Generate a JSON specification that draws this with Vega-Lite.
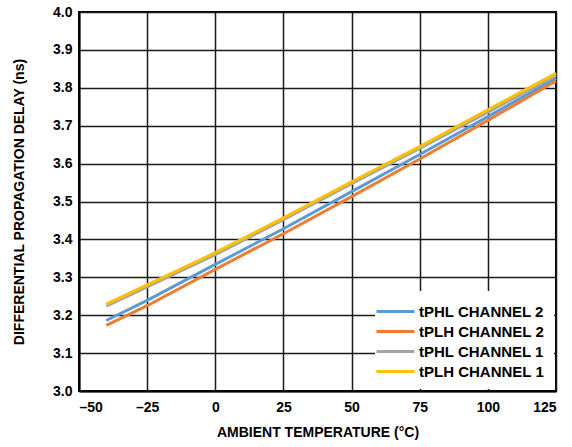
{
  "$schema": "https://vega.github.io/schema/vega-lite/v6.json",
  "width": 477,
  "height": 379,
  "autosize": {"type": "none"},
  "padding": {"left": 79, "top": 12, "right": 16, "bottom": 56},
  "background": "white",
  "config": {
    "font": "Liberation Sans",
    "view": {"stroke": "black", "strokeWidth": 2},
    "axis": {
      "labelFont": "Liberation Sans",
      "labelFontWeight": "bold",
      "labelFontSize": 14,
      "labelColor": "black",
      "titleFont": "Liberation Sans",
      "titleFontWeight": "bold",
      "titleFontSize": 14,
      "titleColor": "black",
      "gridColor": "#1a1a1a",
      "gridWidth": 1.5,
      "gridOpacity": 1,
      "domainColor": "black",
      "domainWidth": 2,
      "ticks": false
    }
  },
  "data": {
    "values": [
      {"temp": -40, "delay": 3.186, "series": "tPHL CHANNEL 2"},
      {"temp": -25, "delay": 3.239, "series": "tPHL CHANNEL 2"},
      {"temp": 0, "delay": 3.334, "series": "tPHL CHANNEL 2"},
      {"temp": 25, "delay": 3.428, "series": "tPHL CHANNEL 2"},
      {"temp": 50, "delay": 3.526, "series": "tPHL CHANNEL 2"},
      {"temp": 75, "delay": 3.624, "series": "tPHL CHANNEL 2"},
      {"temp": 100, "delay": 3.724, "series": "tPHL CHANNEL 2"},
      {"temp": 125, "delay": 3.825, "series": "tPHL CHANNEL 2"},
      {"temp": -40, "delay": 3.173, "series": "tPLH CHANNEL 2"},
      {"temp": -25, "delay": 3.225, "series": "tPLH CHANNEL 2"},
      {"temp": 0, "delay": 3.321, "series": "tPLH CHANNEL 2"},
      {"temp": 25, "delay": 3.415, "series": "tPLH CHANNEL 2"},
      {"temp": 50, "delay": 3.513, "series": "tPLH CHANNEL 2"},
      {"temp": 75, "delay": 3.612, "series": "tPLH CHANNEL 2"},
      {"temp": 100, "delay": 3.714, "series": "tPLH CHANNEL 2"},
      {"temp": 125, "delay": 3.818, "series": "tPLH CHANNEL 2"},
      {"temp": -40, "delay": 3.224, "series": "tPHL CHANNEL 1"},
      {"temp": -25, "delay": 3.275, "series": "tPHL CHANNEL 1"},
      {"temp": 0, "delay": 3.360, "series": "tPHL CHANNEL 1"},
      {"temp": 25, "delay": 3.452, "series": "tPHL CHANNEL 1"},
      {"temp": 50, "delay": 3.547, "series": "tPHL CHANNEL 1"},
      {"temp": 75, "delay": 3.640, "series": "tPHL CHANNEL 1"},
      {"temp": 100, "delay": 3.736, "series": "tPHL CHANNEL 1"},
      {"temp": 125, "delay": 3.832, "series": "tPHL CHANNEL 1"},
      {"temp": -40, "delay": 3.229, "series": "tPLH CHANNEL 1"},
      {"temp": -25, "delay": 3.280, "series": "tPLH CHANNEL 1"},
      {"temp": 0, "delay": 3.365, "series": "tPLH CHANNEL 1"},
      {"temp": 25, "delay": 3.457, "series": "tPLH CHANNEL 1"},
      {"temp": 50, "delay": 3.552, "series": "tPLH CHANNEL 1"},
      {"temp": 75, "delay": 3.645, "series": "tPLH CHANNEL 1"},
      {"temp": 100, "delay": 3.742, "series": "tPLH CHANNEL 1"},
      {"temp": 125, "delay": 3.838, "series": "tPLH CHANNEL 1"}
    ]
  },
  "mark": {"type": "line", "strokeWidth": 3},
  "encoding": {
    "x": {
      "field": "temp",
      "type": "quantitative",
      "scale": {"domain": [-50, 125], "nice": false, "zero": false},
      "axis": {
        "values": [-50, -25, 0, 25, 50, 75, 100, 125],
        "labelExpr": "datum.value < 0 ? '–' + abs(datum.value) : datum.label",
        "labelPadding": 9,
        "titlePadding": 11,
        "title": "AMBIENT TEMPERATURE (°C)"
      }
    },
    "y": {
      "field": "delay",
      "type": "quantitative",
      "scale": {"domain": [3.0, 4.0], "nice": false, "zero": false},
      "axis": {
        "values": [3.0, 3.1, 3.2, 3.3, 3.4, 3.5, 3.6, 3.7, 3.8, 3.9, 4.0],
        "format": ".1f",
        "labelPadding": 7,
        "titlePadding": 26,
        "title": "DIFFERENTIAL PROPAGATION DELAY (ns)"
      }
    },
    "color": {
      "field": "series",
      "type": "nominal",
      "sort": null,
      "scale": {
        "domain": ["tPHL CHANNEL 2", "tPLH CHANNEL 2", "tPHL CHANNEL 1", "tPLH CHANNEL 1"],
        "range": ["#5B9BD5", "#ED7D31", "#A5A5A5", "#FFC000"]
      },
      "legend": {
        "title": null,
        "orient": "bottom-right",
        "offset": 2,
        "padding": 9,
        "fillColor": "white",
        "symbolType": "M-1.9,0H1.9",
        "symbolSize": 400,
        "symbolStrokeWidth": 3,
        "labelFont": "Liberation Sans",
        "labelFontWeight": "bold",
        "labelFontSize": 15,
        "labelColor": "black",
        "rowPadding": 0,
        "labelOffset": 12
      }
    }
  }
}
